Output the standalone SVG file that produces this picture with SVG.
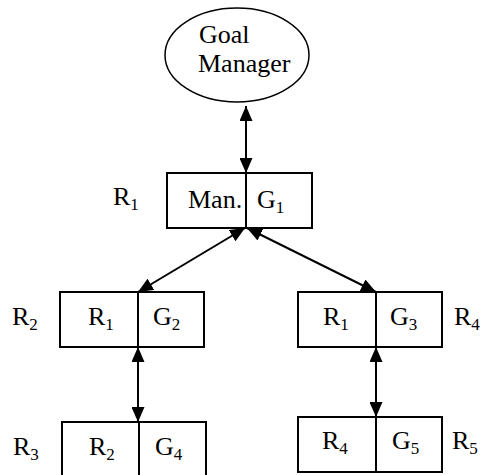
<svg xmlns="http://www.w3.org/2000/svg" width="485" height="475" viewBox="0 0 485 475">
<defs>
<marker id="ah" markerWidth="15" markerHeight="13" refX="15" refY="6.5" orient="auto-start-reverse" markerUnits="userSpaceOnUse">
<path d="M0,0 L15,6.5 L0,13 Z" fill="#000"/>
</marker>
</defs>
<rect width="485" height="475" fill="#fff"/>
<g id="connectors" stroke="#000" stroke-width="2" fill="none">
<line x1="246" y1="106" x2="246" y2="173" marker-start="url(#ah)" marker-end="url(#ah)"/>
<line x1="245" y1="228" x2="138" y2="292" marker-start="url(#ah)" marker-end="url(#ah)"/>
<line x1="247" y1="228" x2="376" y2="292" marker-start="url(#ah)" marker-end="url(#ah)"/>
<line x1="138" y1="347" x2="138" y2="422" marker-start="url(#ah)" marker-end="url(#ah)"/>
<line x1="376" y1="347" x2="376" y2="417" marker-start="url(#ah)" marker-end="url(#ah)"/>
</g>
<g id="goal-manager">
<ellipse cx="237" cy="55" rx="72" ry="47" fill="#fff" stroke="#000" stroke-width="1.5"/>
<text x="199" y="43" font-family="Liberation Serif" font-size="26">Goal</text>
<text x="198" y="72" font-family="Liberation Serif" font-size="26">Manager</text>
</g>
<g id="node-r1" stroke="#000" stroke-width="2">
<rect x="167" y="173" width="145" height="55" fill="#fff"/>
<line x1="246" y1="173" x2="246" y2="228"/>
</g>
<g id="node-r2" stroke="#000" stroke-width="2">
<rect x="60" y="292" width="144" height="55" fill="#fff"/>
<line x1="138" y1="292" x2="138" y2="347"/>
</g>
<g id="node-r4" stroke="#000" stroke-width="2">
<rect x="298" y="292" width="144" height="55" fill="#fff"/>
<line x1="376" y1="292" x2="376" y2="347"/>
</g>
<g id="node-r3" stroke="#000" stroke-width="2">
<rect x="62" y="422" width="144" height="60" fill="#fff"/>
<line x1="139" y1="422" x2="139" y2="482"/>
</g>
<g id="node-r5" stroke="#000" stroke-width="2">
<rect x="298" y="417" width="144" height="55" fill="#fff"/>
<line x1="376" y1="417" x2="376" y2="472"/>
</g>
<g id="labels">
<text x="188" y="208" font-family="Liberation Serif" font-size="26">Man.</text>
<text x="257" y="208" font-family="Liberation Serif" font-size="26">G<tspan font-size="17" dy="5">1</tspan></text>
<text x="113" y="205" font-family="Liberation Serif" font-size="26">R<tspan font-size="17" dy="5">1</tspan></text>
<text x="88" y="325" font-family="Liberation Serif" font-size="26">R<tspan font-size="17" dy="5">1</tspan></text>
<text x="153" y="325" font-family="Liberation Serif" font-size="26">G<tspan font-size="17" dy="5">2</tspan></text>
<text x="12" y="325" font-family="Liberation Serif" font-size="26">R<tspan font-size="17" dy="5">2</tspan></text>
<text x="323" y="325" font-family="Liberation Serif" font-size="26">R<tspan font-size="17" dy="5">1</tspan></text>
<text x="390" y="325" font-family="Liberation Serif" font-size="26">G<tspan font-size="17" dy="5">3</tspan></text>
<text x="454" y="325" font-family="Liberation Serif" font-size="26">R<tspan font-size="17" dy="5">4</tspan></text>
<text x="89" y="455" font-family="Liberation Serif" font-size="26">R<tspan font-size="17" dy="5">2</tspan></text>
<text x="155" y="455" font-family="Liberation Serif" font-size="26">G<tspan font-size="17" dy="5">4</tspan></text>
<text x="13" y="455" font-family="Liberation Serif" font-size="26">R<tspan font-size="17" dy="5">3</tspan></text>
<text x="322" y="449" font-family="Liberation Serif" font-size="26">R<tspan font-size="17" dy="5">4</tspan></text>
<text x="392" y="449" font-family="Liberation Serif" font-size="26">G<tspan font-size="17" dy="5">5</tspan></text>
<text x="452" y="449" font-family="Liberation Serif" font-size="26">R<tspan font-size="17" dy="5">5</tspan></text>
</g>
</svg>
